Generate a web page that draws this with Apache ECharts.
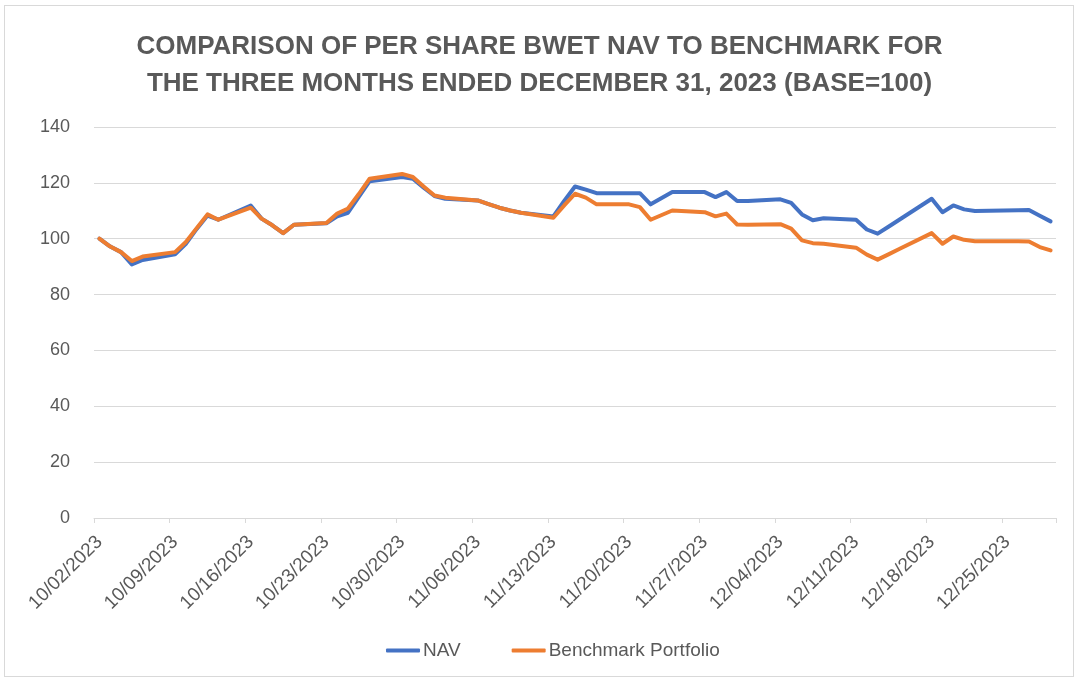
<!DOCTYPE html>
<html>
<head>
<meta charset="utf-8">
<title>BWET NAV vs Benchmark</title>
<script src="https://cdn.jsdelivr.net/npm/echarts@6/dist/echarts.min.js"></script>
<style>
  html, body { margin: 0; padding: 0; background: #fff; }
  #main { width: 1079px; height: 681px; position: relative; }
  #frame { position: absolute; left: 4px; top: 5px; right: 5px; bottom: 4px;
           border: 1px solid #d9d9d9; pointer-events: none; }
</style>
</head>
<body>
<div id="main"></div>
<div id="frame"></div>
<script>
// 交易日（周末和假日没有点，线直接连过去）
var tradeDates = ['10/02/2023','10/03/2023','10/04/2023','10/05/2023','10/06/2023',
  '10/09/2023','10/10/2023','10/11/2023','10/12/2023','10/13/2023',
  '10/16/2023','10/17/2023','10/18/2023','10/19/2023','10/20/2023',
  '10/23/2023','10/24/2023','10/25/2023','10/26/2023','10/27/2023',
  '10/30/2023','10/31/2023','11/01/2023','11/02/2023','11/03/2023',
  '11/06/2023','11/07/2023','11/08/2023','11/09/2023','11/10/2023',
  '11/13/2023','11/14/2023','11/15/2023','11/16/2023','11/17/2023',
  '11/20/2023','11/21/2023','11/22/2023','11/24/2023',
  '11/27/2023','11/28/2023','11/29/2023','11/30/2023','12/01/2023',
  '12/04/2023','12/05/2023','12/06/2023','12/07/2023','12/08/2023',
  '12/11/2023','12/12/2023','12/13/2023','12/14/2023','12/15/2023',
  '12/18/2023','12/19/2023','12/20/2023','12/21/2023','12/22/2023',
  '12/26/2023','12/27/2023','12/28/2023','12/29/2023'];

var navValues = [100, 97.2, 95.2, 90.8, 92.4,
  94.4, 98.2, 103.5, 108.3, 106.8,
  111.9, 107.2, 104.8, 102.0, 105.0,
  105.5, 108.0, 109.3, 115.0, 120.6,
  122.1, 121.5, 118.3, 115.3, 114.3,
  113.7, 112.4, 111.1, 110.1, 109.3,
  108.0, 113.5, 118.7, 117.6, 116.3,
  116.3, 116.3, 112.3, 116.7,
  116.7, 114.9, 116.7, 113.5, 113.5,
  114.1, 112.8, 108.7, 106.6, 107.3,
  106.8, 103.3, 101.8, 104.3, 106.8,
  114.3, 109.5, 111.9, 110.5, 109.9,
  110.2, 110.3, 108.2, 106.2];

var benchValues = [100, 97.2, 95.2, 92.0, 93.6,
  95.2, 98.8, 103.8, 108.7, 106.8,
  111.1, 107.2, 104.8, 102.0, 105.0,
  105.6, 109.0, 110.8, 116.0, 121.5,
  123.2, 122.1, 118.7, 115.5, 114.7,
  113.7, 112.4, 111.1, 110.1, 109.3,
  107.5, 111.9, 116.1, 114.7, 112.3,
  112.3, 111.3, 106.8, 110.1,
  109.5, 108.0, 109.0, 105.1, 105.0,
  105.2, 103.6, 99.4, 98.4, 98.2,
  96.8, 94.3, 92.5, 94.4, 96.3,
  102.0, 98.2, 100.8, 99.6, 99.1,
  99.1, 99.0, 97.0, 95.8];

var yTicks = [0, 20, 40, 60, 80, 100, 120, 140];
var startDay = '2023-10-02';
var endDay = '2023-12-29';

// 日期轴：每一个日历日一个类目
function pad(n) { return n < 10 ? '0' + n : '' + n; }
function buildDays(from, to) {
  var out = [];
  var d = new Date(from + 'T00:00:00Z');
  var e = new Date(to + 'T00:00:00Z');
  while (d <= e) {
    out.push(pad(d.getUTCMonth() + 1) + '/' + pad(d.getUTCDate()) + '/' + d.getUTCFullYear());
    d.setUTCDate(d.getUTCDate() + 1);
  }
  return out;
}
var days = buildDays(startDay, endDay);

function pairs(vals) {
  var arr = [];
  for (var i = 0; i < tradeDates.length; i++) {
    arr.push([tradeDates[i], vals[i]]);
  }
  return arr;
}

var labelFont = 'Liberation Sans, Arial, sans-serif';
var grey = '#595959';

var chart = echarts.init(document.getElementById('main'));
var option = {
  animation: false,
  backgroundColor: '#ffffff',
  title: {
    text: 'COMPARISON OF PER SHARE BWET NAV TO BENCHMARK FOR\nTHE THREE MONTHS ENDED DECEMBER 31, 2023 (BASE=100)',
    left: 'center',
    top: 23,
    textStyle: {
      fontFamily: 'Liberation Sans, Arial, sans-serif',
      fontWeight: 'bold',
      fontSize: 26,
      lineHeight: 37,
      color: grey
    }
  },
  legend: {
    bottom: 16,
    left: 381,
    icon: 'roundRect',
    itemWidth: 34,
    itemHeight: 4,
    itemGap: 51,
    textStyle: { fontFamily: labelFont, fontSize: 19, color: grey, padding: [0, 0, 0, -2] },
    data: ['NAV', 'Benchmark Portfolio']
  },
  grid: {
    left: 94,
    right: 23,
    top: 127,
    bottom: 163,
    containLabel: false,
    outerBoundsMode: 'none'
  },
  xAxis: {
    type: 'category',
    data: days,
    boundaryGap: true,
    axisLine: { lineStyle: { color: '#d9d9d9', width: 1 } },
    axisTick: { show: true, interval: 6, length: 5, lineStyle: { color: '#d9d9d9' } },
    axisLabel: {
      interval: 6,
      rotate: 45,
      margin: 21,
      fontFamily: labelFont,
      fontSize: 19,
      color: grey
    },
    splitLine: { show: false }
  },
  yAxis: {
    type: 'value',
    min: yTicks[0],
    max: yTicks[yTicks.length - 1],
    interval: yTicks[1] - yTicks[0],
    axisLine: { show: false },
    axisTick: { show: false },
    axisLabel: { margin: 24, fontFamily: labelFont, fontSize: 18, color: grey },
    splitLine: { lineStyle: { color: '#d9d9d9', width: 1 } }
  },
  series: [
    {
      name: 'NAV',
      type: 'line',
      data: pairs(navValues),
      showSymbol: false,
      symbol: 'none',
      itemStyle: { color: '#4472c4' },
      lineStyle: { color: '#4472c4', width: 4, join: 'round', cap: 'round' }
    },
    {
      name: 'Benchmark Portfolio',
      type: 'line',
      data: pairs(benchValues),
      showSymbol: false,
      symbol: 'none',
      itemStyle: { color: '#ed7d31' },
      lineStyle: { color: '#ed7d31', width: 4, join: 'round', cap: 'round' }
    }
  ]
};
chart.setOption(option);
</script>
</body>
</html>
